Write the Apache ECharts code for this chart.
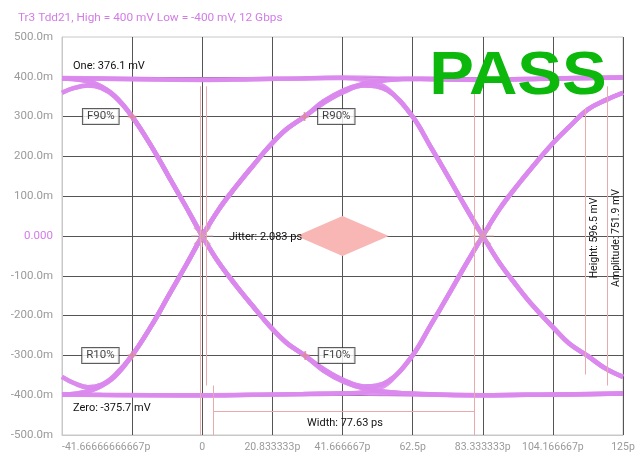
<!DOCTYPE html>
<html>
<head>
<meta charset="utf-8">
<title>Tr3 Tdd21 eye</title>
<script src="https://cdn.jsdelivr.net/npm/echarts@6/dist/echarts.min.js"></script>
<style>
    html, body {margin: 0; padding: 0; background: #fff;}
    #eyeChart {width: 639px; height: 453px;}
</style>
</head>
<body>
<div id="eyeChart"></div>
<script>
//axis tick labels (the -20.83p tick has no label in the scope shot)
var xTickLabels = ['-41.66666666667p', '', '0', '20.833333p', '41.666667p', '62.5p', '83.333333p', '104.166667p', '125p'];
var yTickLabels = ['-500.0m', '-400.0m', '-300.0m', '-200.0m', '-100.0m', '0.000', '100.0m', '200.0m', '300.0m', '400.0m', '500.0m'];

//traces, [ps, mV]
//rails
var hiRail = [[-41.67, 396], [-30, 395], [-15, 393], [0, 392], [15, 394], [30, 396], [41.67, 398], [55, 396], [70, 393], [83.33, 392], [95, 394], [110, 396], [125, 398]];
var loRail = [[-41.67, -398], [-30, -399], [-15, -400], [0, -401], [15, -399], [30, -397], [41.67, -395], [55, -397], [70, -399], [83.33, -400], [95, -399], [110, -398], [125, -396]];
//before the 0 ps crossing
var hiRailL = [[-41.67, 396], [-36, 392], [-31, 380], [-26, 352]];
var hiPulseL = [[-41.67, 360], [-38, 372], [-34, 378], [-30, 372], [-26, 350]];
var loRailL = [[-41.67, -399], [-36, -394], [-31, -381], [-26, -353]];
var loPulseL = [[-41.67, -354], [-38, -370], [-34, -380], [-30, -374], [-26, -350]];
//edges through 0 ps
var fall0 = [[-20.83, 300], [-15, 224], [-10, 150], [-5, 76], [0, 0], [5, -68], [10, -124], [15, -176], [20, -226], [25, -268], [30.4, -300]];
var rise0 = [[-20.83, -300], [-15, -224], [-10, -150], [-5, -76], [0, 0], [5, 68], [10, 124], [15, 176], [20, 226], [25, 268], [30.4, 300]];
//inside the eye
var loRailM = [[36, -338], [42, -366], [48, -383], [55, -392], [65, -397], [83.33, -400], [104.17, -398], [125, -396]];
var loPulseM = [[36, -334], [42, -362], [48, -378], [55, -366]];
var hiRailM = [[36, 338], [42, 366], [48, 383], [55, 392], [65, 395], [83.33, 393], [104.17, 396], [125, 398]];
var hiPulseM = [[36, 334], [42, 362], [48, 378], [55, 366]];
//edges through 83.33 ps
var fall83 = [[62.5, 300], [68, 222], [73, 150], [78, 76], [83.33, 0], [88.33, -68], [93.33, -124], [98.33, -176], [104.5, -232], [109, -270], [114.6, -302], [120, -334], [125, -354]];
var rise83 = [[62.5, -300], [68, -222], [73, -150], [78, -76], [83.33, 0], [88.33, 68], [93.33, 124], [98.33, 176], [104.5, 236], [109, 274], [114.6, 318], [120, 342], [125, 360]];
var hiRailToFall83 = [[-41.67, 397], [-20.83, 395], [0, 393], [20.83, 395], [41.67, 397], [48, 392], [54, 376], [58, 345]];
var loRailToRise83 = [[-41.67, -398], [-20.83, -400], [0, -400], [20.83, -398], [41.67, -396], [48, -392], [54, -377], [58, -346]];

//jitter diamond
var jitterDiamond = [[28, 0], [41.67, 50], [55.4, 0], [41.67, -50]];

//rise / fall reference points
var edgeMarks = [
    {name: 'F90%', value: [-20.83, 300], side: 'left'},
    {name: 'R10%', value: [-20.83, -300], side: 'left'},
    {name: 'R90%', value: [30.4, 300], side: 'right'},
    {name: 'F10%', value: [30.6, -300], side: 'right'}
];

//eye crossings
var crossings = [[0, 0], [83.33, 0]];

//measurement cursor lines, [[ps, mV], [ps, mV]]
var cursorLines = [
    [[-41.67, 376.1], [125, 376.1]],
    [[-41.67, -375.7], [125, -375.7]],
    [[-0.6, 376.1], [-0.6, -500]],
    [[1.2, 376.1], [1.2, -375.7]],
    [[3.3, -375.7], [3.3, -500]],
    [[80.9, 376.1], [80.9, -500]],
    [[3.3, -440], [80.9, -440]],
    [[113.7, 322], [113.7, -348]],
    [[120.2, 376.1], [120.2, -375.7]]
];

var font = 'Roboto, "Liberation Sans", Arial, sans-serif';
var traceColor = '#da88ed';

function join() {
    var out = [];
    for (var i = 0; i < arguments.length; i++) {
        out = out.concat(arguments[i]);
    }
    return out;
}

var traces = [
    hiRail,
    loRail,
    join(hiRailL, fall0, loRailM),
    join(hiPulseL, fall0, loRailM),
    join(hiRailL, fall0, loPulseM, rise83),
    join(hiPulseL, fall0, loPulseM, rise83),
    join(loRailL, rise0, hiRailM),
    join(loPulseL, rise0, hiRailM),
    join(loRailL, rise0, hiPulseM, fall83),
    join(loPulseL, rise0, hiPulseM, fall83),
    join(hiRailToFall83, fall83),
    join(loRailToRise83, rise83)
];

var series = [];
//cursors first so the traces sit on top
series.push({
    type: 'line',
    data: [],
    silent: true,
    markLine: {
        silent: true,
        symbol: 'none',
        label: {show: false},
        lineStyle: {color: '#e8aaaa', width: 1, type: 'solid'},
        data: cursorLines.map(function (l) {
            return [{coord: l[0]}, {coord: l[1]}];
        })
    }
});
series.push({
    type: 'custom',
    silent: true,
    data: [jitterDiamond[0]],
    renderItem: function (params, api) {
        var pts = jitterDiamond.map(function (p) {
            return api.coord(p);
        });
        return {type: 'polygon', shape: {points: pts}, style: {fill: '#f8b6b4'}};
    },
    z: 3
});
traces.forEach(function (t) {
    series.push({
        type: 'line',
        data: t,
        showSymbol: false,
        smooth: 0.4,
        silent: true,
        lineStyle: {color: traceColor, width: 4.5, opacity: 0.9},
        z: 4
    });
});
//little star on each crossing
series.push({
    type: 'scatter',
    silent: true,
    symbol: 'path://M0,9.5H20V10.5H0ZM9.5,0H10.5V20H9.5ZM2,2.7L2.7,2L18,17.3L17.3,18ZM17.3,2L18,2.7L2.7,18L2,17.3Z',
    symbolSize: 22,
    itemStyle: {color: '#d9a0a0', opacity: 0.8},
    data: crossings,
    z: 5
});
series.push({
    type: 'scatter',
    silent: true,
    symbol: 'path://M4,0H6V10H4ZM0,4H10V6H0Z',
    symbolSize: 9,
    itemStyle: {color: '#d98a8a'},
    data: edgeMarks.map(function (m) {
        return {
            name: m.name,
            value: m.value,
            label: {
                show: true,
                formatter: '{b}',
                position: m.side,
                distance: 9,
                color: '#111',
                fontFamily: font,
                fontSize: 11.5,
                backgroundColor: '#fff',
                borderColor: '#333',
                borderWidth: 1,
                padding: [2, 4, 1, 4]
            }
        };
    }),
    z: 6
});

var chart = echarts.init(document.getElementById('eyeChart'), null, {renderer: 'canvas'});
chart.setOption({
    animation: false,
    backgroundColor: '#fff',
    title: {
        text: 'Tr3 Tdd21, High = 400 mV Low = -400 mV, 12 Gbps',
        left: 13,
        top: 7,
        textStyle: {color: '#d27ce6', fontSize: 11.8, fontWeight: 'normal', fontFamily: font}
    },
    grid: {left: 62, right: 16, top: 37, bottom: 17, show: true, borderColor: '#c8c8c8', borderWidth: 1},
    xAxis: {
        type: 'value',
        min: -125 / 3,
        max: 125,
        interval: 125 / 6,
        axisLine: {show: true, onZero: false, lineStyle: {color: '#c8c8c8'}},
        axisTick: {show: false},
        splitLine: {show: true, showMinLine: false, showMaxLine: false, lineStyle: {color: '#555', width: 1}},
        axisLabel: {
            color: '#9a9a9a',
            fontFamily: font,
            fontSize: 10.5,
            margin: 7,
            showMinLabel: true,
            showMaxLabel: true,
            alignMinLabel: 'left',
            formatter: function (v) {
                var i = Math.round((v + 125 / 3) / (125 / 6));
                return xTickLabels[i] || '';
            }
        }
    },
    yAxis: {
        type: 'value',
        min: -500,
        max: 500,
        interval: 100,
        axisLine: {show: true, onZero: false, lineStyle: {color: '#c8c8c8'}},
        axisTick: {show: false},
        splitLine: {show: true, showMinLine: false, showMaxLine: false, lineStyle: {color: '#555', width: 1}},
        axisLabel: {
            fontFamily: font,
            fontSize: 11.5,
            margin: 9,
            color: function (v) {
                return Math.round(v) === 0 ? '#d27ce6' : '#9a9a9a';
            },
            formatter: function (v) {
                return yTickLabels[Math.round((v + 500) / 100)];
            }
        }
    },
    graphic: [
        {type: 'text', x: 73, y: 66, z: 100, style: {text: 'One: 376.1 mV', fill: '#111', font: '11px ' + font, verticalAlign: 'middle'}},
        {type: 'text', x: 73, y: 408, z: 100, style: {text: 'Zero: -375.7 mV', fill: '#111', font: '11px ' + font, verticalAlign: 'middle'}},
        {type: 'text', x: 307, y: 423, z: 100, style: {text: 'Width: 77.63 ps', fill: '#111', font: '11px ' + font, verticalAlign: 'middle'}},
        {type: 'text', x: 229, y: 237, z: 100, style: {text: 'Jitter: 2.083 ps', fill: '#111', font: '11px ' + font, verticalAlign: 'middle'}},
        {type: 'text', x: 594, y: 238, rotation: Math.PI / 2, z: 100, style: {text: 'Height: 596.5 mV', fill: '#111', font: '10.5px ' + font, align: 'center', verticalAlign: 'middle'}},
        {type: 'text', x: 616, y: 238, rotation: Math.PI / 2, z: 100, style: {text: 'Amplitude: 751.9 mV', fill: '#111', font: '10.5px ' + font, align: 'center', verticalAlign: 'middle'}},
        {type: 'text', x: 518, y: 77, scaleX: 1.1, z: 100, style: {text: 'PASS', fill: '#0bb80b', font: 'bold 61px "Liberation Sans", Arial, sans-serif', align: 'center', verticalAlign: 'middle'}}
    ],
    series: series
});
</script>
</body>
</html>
